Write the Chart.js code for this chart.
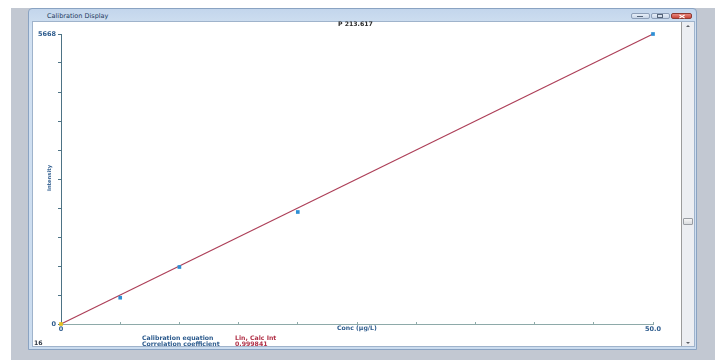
<!DOCTYPE html>
<html>
<head>
<meta charset="utf-8">
<title>Calibration Display</title>
<script src="https://cdn.jsdelivr.net/npm/chart.js@4.4.1/dist/chart.umd.min.js"></script>
<style>
  html, body { margin: 0; padding: 0; width: 715px; height: 360px; overflow: hidden; background: #ffffff; }
  body { position: relative; font-family: "DejaVu Sans", sans-serif; }
  .abs { position: absolute; }
  #desk { left: 11px; top: 8px; width: 704px; height: 352px; background: #c2c8d2; }
  #win { left: 28px; top: 8px; width: 669px; height: 342px; box-sizing: border-box;
         background: linear-gradient(#c3d6ec, #d2e1f2 20px, #cbdcef);
         border: 1px solid #8aa3c2; border-radius: 4px 4px 0 0; }
  #client { left: 33px; top: 22px; width: 661px; height: 324px; background: #ffffff;
            box-shadow: 0 0 0 1px #9fb3cb; }
  #scroll { left: 681px; top: 22px; width: 13px; height: 324px; box-sizing: border-box;
            background: #eceef2; border-left: 1px solid #9b9b9b; }
  #thumb { left: 683px; top: 218px; width: 10px; height: 7px; box-sizing: border-box;
           background: linear-gradient(#f6f6f6, #d9dbde); border: 1px solid #999da3; border-radius: 1px; }
  .arrow-up { width: 0; height: 0; border-left: 2px solid transparent; border-right: 2px solid transparent; border-bottom: 2px solid #5b5f66; }
  .arrow-dn { width: 0; height: 0; border-left: 2px solid transparent; border-right: 2px solid transparent; border-top: 2px solid #5b5f66; }
  .btn { top: 13px; height: 6px; box-sizing: border-box; border: 1px solid #8d9fb8; border-radius: 2px;
         background: linear-gradient(#e6eef8, #c8d6e8); }
  #bclose { background: linear-gradient(#e8887e, #c9463a); border-color: #8d3a32; }
  .txt { white-space: nowrap; line-height: 8px; height: 8px; }
  .bold { font-weight: bold; font-size: 6.2px; }
  .blue { color: #2e5c8e; }
  .red { color: #b2344a; }
  #chartbox { left: 33px; top: 22px; width: 647px; height: 324px; }
</style>
</head>
<body>
  <div id="desk" class="abs"></div>
  <div id="win" class="abs"></div>
  <div id="client" class="abs"></div>
  <div id="scroll" class="abs"></div>
  <div id="thumb" class="abs"></div>
  <div class="abs arrow-up" style="left:686px; top:25px;"></div>
  <div class="abs arrow-dn" style="left:686px; top:342px;"></div>

  <div id="bmin" class="abs btn" style="left:631px; width:19px;"></div>
  <div id="bmax" class="abs btn" style="left:651px; width:19px;"></div>
  <div id="bclose" class="abs btn" style="left:671px; width:21px;"></div>
  <div class="abs" style="left:637px; top:16px; width:6px; height:1px; background:#55657a;"></div>
  <div class="abs" style="left:657px; top:14px; width:6px; height:4px; box-sizing:border-box; border:1px solid #55657a;"></div>
  <div class="abs" style="left:679px; top:15.5px; width:6px; height:1px; background:#ffffff; transform:rotate(30deg);"></div>
  <div class="abs" style="left:679px; top:15.5px; width:6px; height:1px; background:#ffffff; transform:rotate(-30deg);"></div>

  <div class="abs txt" style="left:47px; top:12px; font-size:6.5px; color:#1f3a5e;">Calibration Display</div>

  <div id="chartbox" class="abs"><canvas id="cal" width="647" height="324"></canvas></div>

  <div class="abs txt bold" style="left:338px; top:20px; color:#2b2b2b;">P 213.617</div>
  <div class="abs txt bold blue" style="font-size:5.2px; transform:translate(-50%,-50%) rotate(-90deg); transform-origin:center; left:49px; top:178px; line-height:6px; height:6px;">Intensity</div>
  <div class="abs txt bold blue" style="left:337px; top:324px;">Conc (µg/L)</div>
  <div class="abs txt bold" style="left:34px; top:339px; color:#333c48;">16</div>
  <div class="abs txt bold blue" style="left:142px; top:334px;">Calibration equation</div>
  <div class="abs txt bold blue" style="left:142px; top:339.5px;">Correlation coefficient</div>
  <div class="abs txt bold red" style="left:235px; top:334px;">Lin, Calc Int</div>
  <div class="abs txt bold red" style="left:235px; top:339.5px;">0.999841</div>

<script>
// Calibration standards for P 213.617
const concentrations = [0, 5, 10, 20, 50];          // µg/L
const intensities    = [0, 514, 1114, 2189, 5668];   // counts

// Calibration line end points
const fitConc      = [0, 50];
const fitIntensity = [0, 5668];

// Axis ticks and their labels
const xTicks      = [0, 5, 10, 15, 20, 25, 30, 35, 40, 45, 50];
const xTickLabels = ['0', '', '', '', '', '', '', '', '', '', '50.0'];
const yTicks      = [0, 566.8, 1133.6, 1700.4, 2267.2, 2834, 3400.8, 3967.6, 4534.4, 5101.2, 5668];
const yTickLabels = ['0', '', '', '', '', '', '', '', '', '', '5668'];

const tickFont = { family: 'DejaVu Sans', weight: 'bold', size: 6.5 };
const pointColors = concentrations.map(c => c === 0 ? '#e6c21e' : '#2d8fd5');

new Chart(document.getElementById('cal'), {
  type: 'scatter',
  data: {
    datasets: [
      {
        label: 'Standards',
        data: concentrations.map((c, i) => ({ x: c, y: intensities[i] })),
        showLine: false,
        pointStyle: 'rect',
        pointRadius: 2.6,
        pointBorderWidth: 0,
        pointBackgroundColor: pointColors,
        clip: false,
        order: 0
      },
      {
        label: 'Calibration',
        data: fitConc.map((c, i) => ({ x: c, y: fitIntensity[i] })),
        showLine: true,
        borderColor: '#ad3f58',
        borderWidth: 1.2,
        pointRadius: 0,
        clip: false,
        order: 1
      }
    ]
  },
  options: {
    responsive: false,
    animation: false,
    devicePixelRatio: 1,
    layout: { padding: { top: 12, right: 27, left: 0, bottom: 0 } },
    plugins: { legend: { display: false }, tooltip: { enabled: false }, title: { display: false } },
    scales: {
      x: {
        type: 'linear',
        min: 0,
        max: 50,
        afterBuildTicks: s => { s.ticks = xTicks.map(v => ({ value: v })); },
        afterFit: s => { s.height = 22; },
        ticks: {
          autoSkip: false,
          maxRotation: 0,
          padding: 3,
          color: '#2e5c8e',
          font: tickFont,
          callback: (v, i) => xTickLabels[i]
        },
        grid: { drawOnChartArea: false, tickLength: -2, color: '#8eaaa9', lineWidth: 1 },
        border: { color: '#8eaaa9', width: 1 }
      },
      y: {
        type: 'linear',
        min: 0,
        max: 5668,
        afterBuildTicks: s => { s.ticks = yTicks.map(v => ({ value: v })); },
        afterFit: s => { s.width = 28; },
        ticks: {
          autoSkip: false,
          padding: 2,
          color: '#2e5c8e',
          font: tickFont,
          callback: (v, i) => yTickLabels[i]
        },
        grid: { drawOnChartArea: false, tickLength: 3, color: '#4d7385', lineWidth: 1 },
        border: { color: '#4d7385', width: 1 }
      }
    }
  }
});
</script>
</body>
</html>
